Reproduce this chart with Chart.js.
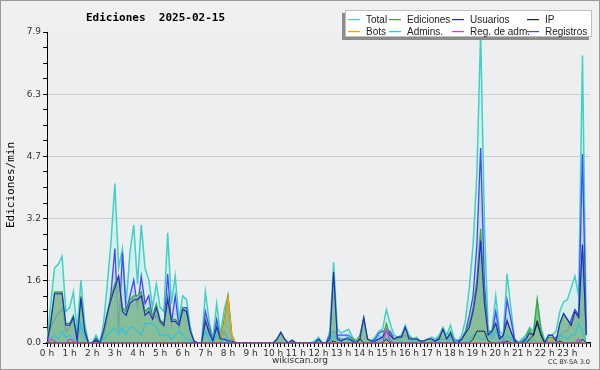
<!DOCTYPE html>
<html>
<head>
<meta charset="utf-8">
<script src="https://cdn.jsdelivr.net/npm/chart.js@4/dist/chart.umd.min.js"></script>
<style>
  html, body { margin: 0; padding: 0; background: #f0f0f0; }
  #wrap { width: 600px; height: 370px; }
</style>
</head>
<body>
<div id="wrap"><canvas id="chart" width="600" height="370"></canvas></div>
<script>
// Ediciones 2025-02-15 (wikiscan) - una muestra cada 10 minutos

const hourLabels = ['0 h','1 h','2 h','3 h','4 h','5 h','6 h','7 h','8 h','9 h','10 h','11 h',
    '12 h','13 h','14 h','15 h','16 h','17 h','18 h','19 h','20 h','21 h','22 h','23 h'];
const slotsPerHour = 6;
const yTicks = ['0.0', '1.6', '3.2', '4.7', '6.3', '7.9'];
const yMax = 7.9;

const total = [
    0.05, 1.0, 1.9, 2.0, 2.2, 0.8,
    0.9, 1.3, 0.3, 1.6, 0.5, 0.0,
    0.0, 0.2, 0.0, 0.5, 1.5, 2.6,
    4.05, 1.9, 2.4, 1.0, 2.3, 3.0,
    1.5, 3.0, 1.9, 1.6, 0.9, 1.5,
    0.9, 0.8, 2.8, 1.0, 1.7, 0.6,
    1.2, 1.1, 0.4, 0.0, 0.0, 0.0,
    1.3, 0.55, 0.1, 1.0, 0.2, 0.85,
    1.2, 0.2, 0.0, 0.0, 0.0, 0.0,
    0.0, 0.0, 0.0, 0.0, 0.0, 0.0,
    0.0, 0.1, 0.27, 0.1, 0.0, 0.07,
    0.0, 0.0, 0.0, 0.0, 0.0, 0.05,
    0.15, 0.0, 0.0, 0.3, 2.05, 0.35,
    0.25, 0.3, 0.35, 0.15, 0.05, 0.2,
    0.6, 0.1, 0.05, 0.15, 0.3, 0.35,
    0.85, 0.5, 0.2, 0.15, 0.2, 0.45,
    0.2, 0.1, 0.15, 0.05, 0.05, 0.1,
    0.15, 0.1, 0.2, 0.4, 0.2, 0.45,
    0.1, 0.05, 0.2, 0.6, 1.4, 2.5,
    4.3, 7.9, 3.0, 0.3, 0.3, 1.2,
    0.3, 0.2, 1.75, 0.9, 0.1, 0.0,
    0.1, 0.2, 0.4, 0.3, 1.1, 0.4,
    0.05, 0.2, 0.2, 0.3, 0.8, 1.05,
    1.1, 1.4, 1.7, 1.2, 7.3, 0.4
];

const ediciones = [
    0.05, 0.6, 1.3, 1.3, 1.3, 0.5,
    0.5, 0.7, 0.1, 1.2, 0.35, 0.0,
    0.0, 0.15, 0.0, 0.3, 0.8, 1.2,
    1.5, 1.7, 0.9, 0.8, 1.1, 1.2,
    1.2, 1.3, 0.8, 0.9, 0.7, 1.0,
    0.6, 0.5, 1.2, 0.6, 0.6, 0.5,
    0.9, 0.8, 0.3, 0.05, 0.0, 0.0,
    0.6, 0.3, 0.05, 0.45, 0.1, 0.6,
    1.2, 0.2, 0.0, 0.0, 0.0, 0.0,
    0.0, 0.0, 0.0, 0.0, 0.0, 0.0,
    0.0, 0.1, 0.27, 0.1, 0.0, 0.07,
    0.0, 0.0, 0.0, 0.0, 0.0, 0.0,
    0.1, 0.0, 0.0, 0.1, 1.8, 0.15,
    0.1, 0.1, 0.15, 0.1, 0.05, 0.2,
    0.65, 0.1, 0.05, 0.05, 0.1, 0.15,
    0.5, 0.2, 0.1, 0.15, 0.15, 0.4,
    0.15, 0.1, 0.1, 0.05, 0.05, 0.1,
    0.1, 0.05, 0.15, 0.35, 0.1, 0.3,
    0.05, 0.0, 0.1, 0.3, 0.5, 0.9,
    1.6, 2.9, 1.2, 0.3, 0.3, 0.5,
    0.1, 0.2, 0.6, 0.3, 0.05, 0.0,
    0.05, 0.15, 0.35, 0.2, 1.1, 0.3,
    0.0, 0.15, 0.15, 0.05, 0.5, 0.75,
    0.6, 0.45, 0.8, 0.65, 2.5, 0.2
];

const usuarios = [
    0.0, 0.5, 1.25, 1.25, 1.25, 0.45,
    0.45, 0.65, 0.05, 1.15, 0.3, 0.0,
    0.0, 0.1, 0.0, 0.3, 0.75, 1.1,
    1.4, 1.7, 0.8, 0.7, 1.0, 1.1,
    1.1, 1.2, 0.7, 0.8, 0.6, 0.9,
    0.55, 0.45, 1.1, 0.55, 0.55, 0.45,
    0.85, 0.8, 0.3, 0.05, 0.0, 0.0,
    0.55, 0.25, 0.05, 0.4, 0.1, 0.1,
    0.05, 0.05, 0.0, 0.0, 0.0, 0.0,
    0.0, 0.0, 0.0, 0.0, 0.0, 0.0,
    0.0, 0.1, 0.27, 0.1, 0.0, 0.07,
    0.0, 0.0, 0.0, 0.0, 0.0, 0.0,
    0.1, 0.0, 0.0, 0.1, 1.8, 0.1,
    0.05, 0.1, 0.1, 0.05, 0.0, 0.1,
    0.65, 0.1, 0.05, 0.05, 0.1, 0.15,
    0.3, 0.2, 0.1, 0.15, 0.15, 0.4,
    0.1, 0.1, 0.1, 0.05, 0.05, 0.1,
    0.1, 0.05, 0.1, 0.35, 0.1, 0.25,
    0.0, 0.0, 0.1, 0.25, 0.4, 0.8,
    1.4, 2.6, 1.0, 0.2, 0.3, 0.5,
    0.1, 0.2, 0.55, 0.3, 0.05, 0.0,
    0.0, 0.1, 0.25, 0.2, 0.5, 0.2,
    0.0, 0.2, 0.2, 0.05, 0.5, 0.75,
    0.6, 0.45, 0.8, 0.65, 2.5, 0.2
];

const ip = [
    0, 0, 0, 0, 0, 0,
    0, 0, 0, 0, 0, 0,
    0, 0.05, 0, 0, 0, 0,
    0, 0, 0, 0, 0, 0,
    0, 0, 0, 0, 0, 0,
    0, 0, 0, 0, 0, 0,
    0, 0, 0, 0, 0, 0,
    0, 0, 0, 0, 0, 0,
    0, 0, 0, 0, 0, 0,
    0, 0, 0, 0, 0, 0,
    0, 0, 0, 0, 0, 0,
    0, 0, 0, 0, 0, 0,
    0, 0, 0, 0, 0.05, 0,
    0, 0, 0, 0, 0, 0.1,
    0, 0, 0, 0, 0, 0,
    0.1, 0, 0, 0, 0, 0,
    0, 0, 0, 0, 0, 0,
    0, 0, 0, 0, 0, 0,
    0, 0, 0, 0, 0, 0.1,
    0.3, 0.3, 0.3, 0.05, 0, 0,
    0, 0, 0.05, 0, 0, 0,
    0, 0, 0.1, 0.2, 0.57, 0.2,
    0, 0, 0, 0, 0.05, 0,
    0, 0, 0, 0, 0.1, 0
];

const bots = [
    0, 0, 0, 0, 0, 0,
    0, 0, 0, 0, 0, 0,
    0, 0, 0, 0, 0, 0,
    0, 0, 0, 0, 0, 0,
    0, 0, 0, 0, 0, 0,
    0, 0, 0, 0, 0, 0,
    0, 0, 0, 0, 0, 0,
    0, 0, 0, 0, 0.1, 0.5,
    1.15, 0.2, 0, 0, 0, 0,
    0, 0, 0, 0, 0, 0,
    0, 0, 0, 0, 0, 0,
    0, 0, 0, 0, 0, 0,
    0, 0, 0, 0, 0, 0,
    0, 0, 0, 0, 0, 0,
    0, 0, 0, 0, 0, 0,
    0, 0, 0, 0, 0, 0,
    0, 0, 0, 0, 0, 0,
    0, 0, 0, 0, 0, 0,
    0, 0, 0, 0, 0, 0,
    0, 0, 0, 0, 0, 0,
    0, 0, 0, 0, 0, 0,
    0, 0, 0, 0, 0, 0,
    0, 0, 0.1, 0.05, 0, 0,
    0, 0, 0, 0, 0, 0
];

const admins = [
    0, 0.1, 0.2, 0.1, 0.3, 0.15,
    0.2, 0.1, 0.1, 0.5, 0.1, 0,
    0, 0.15, 0, 0.1, 0.2, 0.3,
    0.4, 0.2, 0.4, 0.2, 0.4, 0.4,
    0.3, 0.2, 0.5, 0.5, 0.5, 0.4,
    0.2, 0.2, 0.2, 0.1, 0.2, 0.3,
    0.2, 0.1, 0.05, 0, 0, 0,
    0.3, 0.1, 0, 0.2, 0, 0.1,
    0, 0, 0, 0, 0, 0,
    0, 0, 0, 0, 0, 0,
    0, 0, 0, 0, 0, 0,
    0, 0, 0, 0, 0, 0,
    0.1, 0, 0, 0, 0.2, 0.1,
    0.1, 0.1, 0.2, 0, 0, 0,
    0, 0, 0, 0.05, 0.2, 0.1,
    0.1, 0.1, 0, 0, 0.05, 0,
    0, 0.05, 0, 0, 0, 0,
    0, 0, 0.05, 0, 0, 0.15,
    0.1, 0, 0, 0, 0.1, 0.2,
    0.2, 0.1, 0.1, 0.35, 0.1, 0.3,
    0.1, 0, 0.2, 0.1, 0, 0,
    0.1, 0.15, 0.05, 0, 0, 0,
    0, 0, 0, 0, 0.2, 0.15,
    0.1, 0.2, 0.2, 0.5, 0.3, 0
];

const regAdm = [
    0, 0.1, 0.05, 0, 0, 0,
    0.1, 0.05, 0, 0, 0, 0,
    0, 0, 0, 0, 0, 0,
    0, 0, 0, 0, 0, 0,
    0, 0, 0, 0, 0, 0,
    0, 0, 0, 0, 0, 0,
    0, 0, 0, 0, 0, 0,
    0, 0, 0, 0, 0, 0,
    0, 0, 0, 0, 0, 0,
    0, 0, 0, 0, 0, 0,
    0, 0, 0, 0, 0, 0,
    0, 0, 0, 0, 0, 0,
    0, 0, 0, 0, 0, 0,
    0, 0, 0, 0, 0, 0,
    0, 0, 0, 0, 0, 0,
    0.35, 0.05, 0, 0, 0, 0,
    0, 0, 0, 0, 0, 0,
    0, 0, 0, 0, 0, 0,
    0, 0, 0, 0, 0, 0,
    0, 0, 0, 0, 0, 0,
    0, 0.05, 0, 0, 0, 0,
    0, 0, 0, 0, 0, 0,
    0, 0, 0, 0, 0, 0,
    0, 0, 0, 0.1, 0, 0
];

const registros = [
    0.0, 0.4, 0.6, 0.75, 0.9, 0.3,
    0.4, 0.6, 0.2, 0.4, 0.2, 0.0,
    0.0, 0.05, 0.0, 0.2, 0.6, 1.3,
    2.4, 0.3, 2.3, 0.8, 1.2, 1.6,
    0.9, 1.7, 1.0, 1.2, 0.6, 0.7,
    0.5, 0.4, 1.75, 0.5, 1.2, 0.4,
    0.9, 0.9, 0.3, 0.0, 0.0, 0.0,
    0.8, 0.4, 0.05, 0.6, 0.1, 0.3,
    0.1, 0.1, 0.0, 0.0, 0.0, 0.0,
    0.0, 0.0, 0.0, 0.0, 0.0, 0.0,
    0.0, 0.0, 0.0, 0.0, 0.0, 0.0,
    0.0, 0.0, 0.0, 0.0, 0.0, 0.0,
    0.05, 0.0, 0.0, 0.2, 0.3, 0.2,
    0.2, 0.2, 0.2, 0.1, 0.0, 0.1,
    0.0, 0.0, 0.0, 0.1, 0.25, 0.3,
    0.3, 0.3, 0.1, 0.1, 0.15, 0.2,
    0.1, 0.0, 0.05, 0.0, 0.0, 0.0,
    0.05, 0.05, 0.1, 0.1, 0.1, 0.2,
    0.1, 0.05, 0.1, 0.3, 0.7, 1.2,
    2.5, 4.95, 1.5, 0.2, 0.2, 0.8,
    0.2, 0.1, 1.1, 0.6, 0.1, 0.0,
    0.05, 0.05, 0.05, 0.1, 0.0, 0.05,
    0.0, 0.05, 0.05, 0.15, 0.2, 0.3,
    0.3, 0.6, 0.85, 0.7, 4.8, 0.2
];

// {x, y} a partir del índice de la muestra
const pts = arr => arr.map((v, i) => ({ x: i, y: v }));

const series = [
    { label: 'Total', data: total, color: '#3ed2c6', fill: 'rgba(205,240,235,0.7)', order: 10, width: 1.5 },
    { label: 'Ediciones', data: ediciones, color: '#3aa83a', fill: 'rgba(122,184,138,0.85)', order: 8, width: 1.2 },
    { label: 'Usuarios', data: usuarios, color: '#2424d2', fill: false, order: 4, width: 1.1 },
    { label: 'IP', data: ip, color: '#222222', fill: false, order: 3, width: 1 },
    { label: 'Bots', data: bots, color: '#ff9a00', fill: false, order: 5, width: 1.3 },
    { label: 'Admins.', data: admins, color: '#2ec4e2', fill: false, order: 6, width: 1.2 },
    { label: 'Reg. de adm.', data: regAdm, color: '#cc3ce6', fill: false, order: 2, width: 1.2 },
    { label: 'Registros', data: registros, color: '#4646ff', fill: 'rgba(175,198,235,0.45)', order: 9, width: 1.3 }
];

const frame = {
    id: 'frame',
    beforeDraw(chart) {
        const { ctx, chartArea: a } = chart;
        ctx.save();
        ctx.fillStyle = '#f0f0f0';
        ctx.fillRect(0, 0, chart.width, chart.height);
        ctx.fillStyle = '#eceef0';
        ctx.fillRect(a.left, a.top, a.right - a.left, a.bottom - a.top);
        ctx.restore();
    },
    afterDraw(chart) {
        const { ctx } = chart;
        ctx.save();
        // borde
        ctx.strokeStyle = '#9a9a9a';
        ctx.lineWidth = 1;
        ctx.strokeRect(0.5, 0.5, chart.width - 1, chart.height - 1);

        // título
        ctx.fillStyle = '#000';
        ctx.font = 'bold 11px "DejaVu Sans Mono"';
        ctx.textBaseline = 'alphabetic';
        ctx.textAlign = 'left';
        ctx.fillText('Ediciones  2025-02-15', 86, 21);

        // título del eje Y
        ctx.save();
        ctx.translate(11, 185);
        ctx.rotate(-Math.PI / 2);
        ctx.textAlign = 'center';
        ctx.textBaseline = 'middle';
        ctx.font = '11px "DejaVu Sans Mono"';
        ctx.fillText('Ediciones/min', 0, 0);
        ctx.restore();

        // pie
        ctx.fillStyle = '#333';
        ctx.textAlign = 'center';
        ctx.textBaseline = 'middle';
        ctx.font = '9px "DejaVu Sans"';
        ctx.fillText('wikiscan.org', 300, 361);
        ctx.textAlign = 'right';
        ctx.font = '6.5px "DejaVu Sans"';
        ctx.fillText('CC BY-SA 3.0', 590, 362);

        // leyenda
        const bx = 345, by = 10, bw = 247, bh = 27;
        ctx.fillStyle = '#8c8c8c';
        ctx.fillRect(bx - 3, by + 3, bw, bh);
        ctx.fillStyle = '#ffffff';
        ctx.fillRect(bx, by, bw, bh);
        ctx.strokeStyle = '#c0c0c0';
        ctx.strokeRect(bx + 0.5, by + 0.5, bw - 1, bh - 1);
        const cols = [348, 389, 452, 527];
        const rows = [19, 31];
        ctx.font = '10px "Liberation Sans"';
        ctx.textAlign = 'left';
        ctx.textBaseline = 'middle';
        series.forEach((s, k) => {
            const x = cols[k % 4], y = rows[Math.floor(k / 4)];
            ctx.fillStyle = s.color;
            ctx.fillRect(x, y, 12, 1.2);
            ctx.fillStyle = '#222';
            ctx.fillText(s.label, x + 18, y + 1);
        });
        ctx.restore();
    }
};

new Chart(document.getElementById('chart'), {
    type: 'line',
    data: {
        datasets: series.map(s => ({
            label: s.label,
            data: pts(s.data),
            borderColor: s.color,
            backgroundColor: s.fill || s.color,
            fill: s.fill ? 'origin' : false,
            borderWidth: s.width,
            pointRadius: 0,
            tension: 0,
            order: s.order
        }))
    },
    options: {
        responsive: false,
        animation: false,
        layout: { padding: { top: 32, right: 10, left: 0, bottom: 0 } },
        plugins: { legend: { display: false }, tooltip: { enabled: false } },
        scales: {
            x: {
                type: 'linear',
                min: 0,
                max: hourLabels.length * slotsPerHour,
                afterBuildTicks: scale => {
                    scale.ticks = [];
                    for (let v = 0; v <= hourLabels.length * slotsPerHour; v++) scale.ticks.push({ value: v });
                },
                afterFit: scale => { scale.height = 27; },
                ticks: {
                    autoSkip: false,
                    maxRotation: 0,
                    padding: 1,
                    color: '#333',
                    font: { family: 'DejaVu Sans', size: 9 },
                    callback: v => (v % slotsPerHour === 0 && v / slotsPerHour < hourLabels.length) ? hourLabels[v / slotsPerHour] : ''
                },
                grid: { drawOnChartArea: false, tickLength: 4, tickColor: '#000', tickWidth: 1 },
                border: { color: '#000', width: 1.5 }
            },
            y: {
                min: 0,
                max: yMax,
                afterBuildTicks: scale => {
                    scale.ticks = [];
                    for (let k = 0; k <= 20; k++) scale.ticks.push({ value: yMax * k / 20 });
                },
                afterFit: scale => { scale.width = 47; },
                ticks: {
                    autoSkip: false,
                    padding: 2,
                    color: '#333',
                    font: { family: 'DejaVu Sans', size: 9 },
                    callback: (v, i) => (i % 4 === 0) ? yTicks[i / 4] : ''
                },
                grid: {
                    tickLength: 4,
                    tickColor: '#000',
                    color: ctx => (ctx.index % 4 === 0 && ctx.index > 0 && ctx.index < 20) ? '#cccccc' : 'rgba(0,0,0,0)'
                },
                border: { color: '#000', width: 1 }
            }
        }
    },
    plugins: [frame]
});
</script>
</body>
</html>
